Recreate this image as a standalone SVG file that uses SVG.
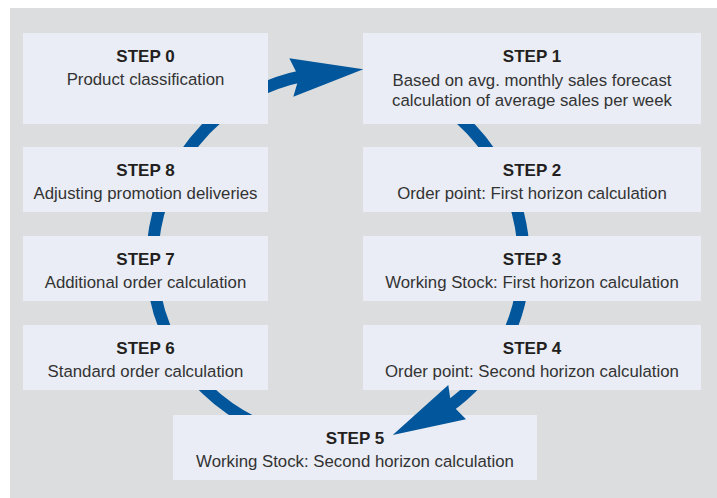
<svg xmlns="http://www.w3.org/2000/svg" width="717" height="498" viewBox="0 0 717 498">
<style>
.box{fill:#eaedf5}
.t{font-family:"Liberation Sans",Arial,sans-serif;font-size:17px;font-weight:bold;fill:#231f20;text-anchor:middle}
.s{font-family:"Liberation Sans",Arial,sans-serif;font-size:16.8px;fill:#333333;text-anchor:middle}
.arc{fill:none;stroke:#02569b;stroke-width:12}
.head{fill:#02569b}
</style>
<rect x="0" y="0" width="717" height="498" fill="#ffffff"/>
<rect x="10" y="8" width="707" height="490" fill="#dcdddf"/>
<g id="connectors">
<path class="arc" d="M 400 83 A 186 190 0 0 1 524 262 A 186 180 0 0 1 446 408.6"/>
<path class="arc" d="M 338 442 A 186 180 0 0 1 152 262 A 186 190 0 0 1 302 76.2"/>
</g>
<g id="step0"><rect class="box" x="23" y="33" width="245" height="91"/><text class="t" x="145.5" y="61.5">STEP 0</text><text class="s" x="145.5" y="85">Product classification</text></g>
<g id="step1"><rect class="box" x="363" y="33" width="338" height="91"/><text class="t" x="532" y="61.5">STEP 1</text><text class="s" x="532" y="85.5">Based on avg. monthly sales forecast</text><text class="s" x="532" y="106">calculation of average sales per week</text></g>
<g id="step8"><rect class="box" x="23" y="147" width="245" height="65"/><text class="t" x="145.5" y="175.5">STEP 8</text><text class="s" x="145.5" y="199">Adjusting promotion deliveries</text></g>
<g id="step2"><rect class="box" x="363" y="147" width="338" height="65"/><text class="t" x="532" y="175.5">STEP 2</text><text class="s" x="532" y="199">Order point: First horizon calculation</text></g>
<g id="step7"><rect class="box" x="23" y="236" width="245" height="65"/><text class="t" x="145.5" y="264.5">STEP 7</text><text class="s" x="145.5" y="288">Additional order calculation</text></g>
<g id="step3"><rect class="box" x="363" y="236" width="338" height="65"/><text class="t" x="532" y="264.5">STEP 3</text><text class="s" x="532" y="288">Working Stock: First horizon calculation</text></g>
<g id="step6"><rect class="box" x="23" y="325" width="245" height="65"/><text class="t" x="145.5" y="353.5">STEP 6</text><text class="s" x="145.5" y="377">Standard order calculation</text></g>
<g id="step4"><rect class="box" x="363" y="325" width="338" height="65"/><text class="t" x="532" y="353.5">STEP 4</text><text class="s" x="532" y="377">Order point: Second horizon calculation</text></g>
<g id="step5"><rect class="box" x="173" y="415" width="364" height="65"/><text class="t" x="355" y="443.5">STEP 5</text><text class="s" x="355" y="467">Working Stock: Second horizon calculation</text></g>
<g id="arrowheads">
<polygon class="head" points="363.3,69.3 289.3,58.3 299,77.5 293.3,96.7"/>
<polygon class="head" points="392.7,435 448.3,385 451,404 466,419.3"/>
</g>
</svg>
